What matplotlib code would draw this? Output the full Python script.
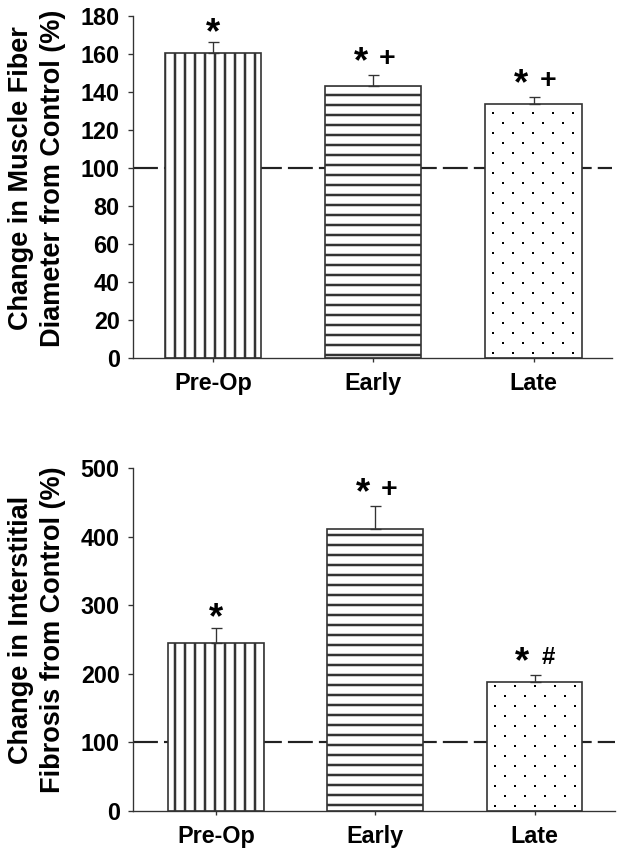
import matplotlib
matplotlib.use("Agg")
import matplotlib.pyplot as plt
import numpy as np

plt.rcParams['font.family'] = ['Liberation Sans', 'DejaVu Sans']
plt.rcParams['font.weight'] = 'bold'
plt.rcParams['hatch.linewidth'] = 1.5
plt.rcParams['hatch.color'] = 'black'

groups = ['Pre-Op', 'Early', 'Late']

# fiber diameter, % of control
fiber_mean = [160.7, 143.2, 133.5]
fiber_err = [5.6, 5.6, 4.0]
fiber_marks = [('*', ''), ('*', '+'), ('*', '+')]

# interstitial fibrosis, % of control
fib_mean = [244.5, 411.5, 188.4]
fib_err = [22.8, 33.5, 9.4]
fib_marks = [('*', ''), ('*', '+'), ('*', '#')]

control = 100
hatches = ['||', '--', None]

DPI = 120
W, H = 635, 858
fig = plt.figure(figsize=(W / DPI, H / DPI), dpi=DPI)
edge = '#333333'


def dot_fill(ax, bar, dx=20, dy=10):
    # dotted texture laid out in pixels, mapped back to data coords
    (x0, y0), (x1, y1) = ax.transData.transform(
        [(bar.get_x(), bar.get_y()),
         (bar.get_x() + bar.get_width(), bar.get_y() + bar.get_height())])
    pts = []
    for i, yy in enumerate(np.arange(y0 + 5, y1 - 2, dy)):
        off = 8 if i % 2 == 0 else 8 + dx / 2
        for xx in np.arange(x0 + off, x1 - 3, dx):
            pts.append((xx, yy))
    pts = ax.transData.inverted().transform(pts)
    sc = ax.scatter(pts[:, 0], pts[:, 1], s=2.4, marker='s', color='black',
                    linewidths=0, zorder=3)
    sc.set_clip_path(bar)


def panel(rect, means, errs, marks, ymax, ystep, xlim, label, label_y):
    ax = fig.add_axes(rect)
    x = np.arange(len(groups))
    ax.set_xlim(*xlim)
    ax.set_ylim(0, ymax)
    ax.axhline(control, color='#222222', lw=1.3, ls=(0, (11.5, 2.8)), zorder=1)
    bars = ax.bar(x, means, width=0.6, color='white', edgecolor=edge,
                  linewidth=1.0, zorder=2)
    for b, h in zip(bars, hatches):
        if h:
            b.set_hatch(h)
    ax.errorbar(x, means, yerr=[np.zeros(len(means)), errs], fmt='none',
                ecolor='#333333', elinewidth=0.8, capsize=3.3, capthick=0.8,
                zorder=4)
    dot_fill(ax, bars[2])
    for xi, m, e, (s1, s2) in zip(x, means, errs, marks):
        top = m + e
        if s2:
            ax.annotate(s1, (xi, top), xytext=(-7.5, 1.6), textcoords='offset points',
                        ha='center', va='baseline', fontsize=22, fontweight='bold')
            fs = 17 if s2 == '+' else 14.5
            dy = 5.4 if s2 == '+' else 6.6
            ax.annotate(s2, (xi, top), xytext=(8.5, dy), textcoords='offset points',
                        ha='center', va='baseline', fontsize=fs, fontweight='bold')
        else:
            ax.annotate(s1, (xi, top), xytext=(0, -0.5), textcoords='offset points',
                        ha='center', va='baseline', fontsize=22, fontweight='bold')
    for side in ['top', 'right']:
        ax.spines[side].set_visible(False)
    for side in ['left', 'bottom']:
        ax.spines[side].set_color(edge)
        ax.spines[side].set_linewidth(0.8)
    ax.set_yticks(np.arange(0, ymax + 1, ystep))
    ax.set_xticks(x)
    ax.set_xticklabels(groups)
    ax.tick_params(axis='both', direction='out', length=3, width=0.8,
                   color=edge, labelsize=14, pad=5)
    ax.tick_params(axis='x', length=2.5, pad=6)
    fig.text(37 / W, 1 - label_y / H, label, rotation=90, ha='center',
             va='center', fontsize=16.3, fontweight='bold', linespacing=1.3,
             multialignment='center')
    return ax


panel([133 / W, 1 - 358 / H, 479 / W, 342 / H], fiber_mean, fiber_err,
      fiber_marks, 180, 20, (-0.5, 2.49),
      'Change in Muscle Fiber\nDiameter from Control (%)', 178)
panel([133 / W, 1 - 810.7 / H, 482 / W, 342.4 / H], fib_mean, fib_err,
      fib_marks, 500, 100, (-0.52, 2.505),
      'Change in Interstitial\nFibrosis from Control (%)', 630)

fig.savefig('out.png', dpi=DPI, facecolor='white')
